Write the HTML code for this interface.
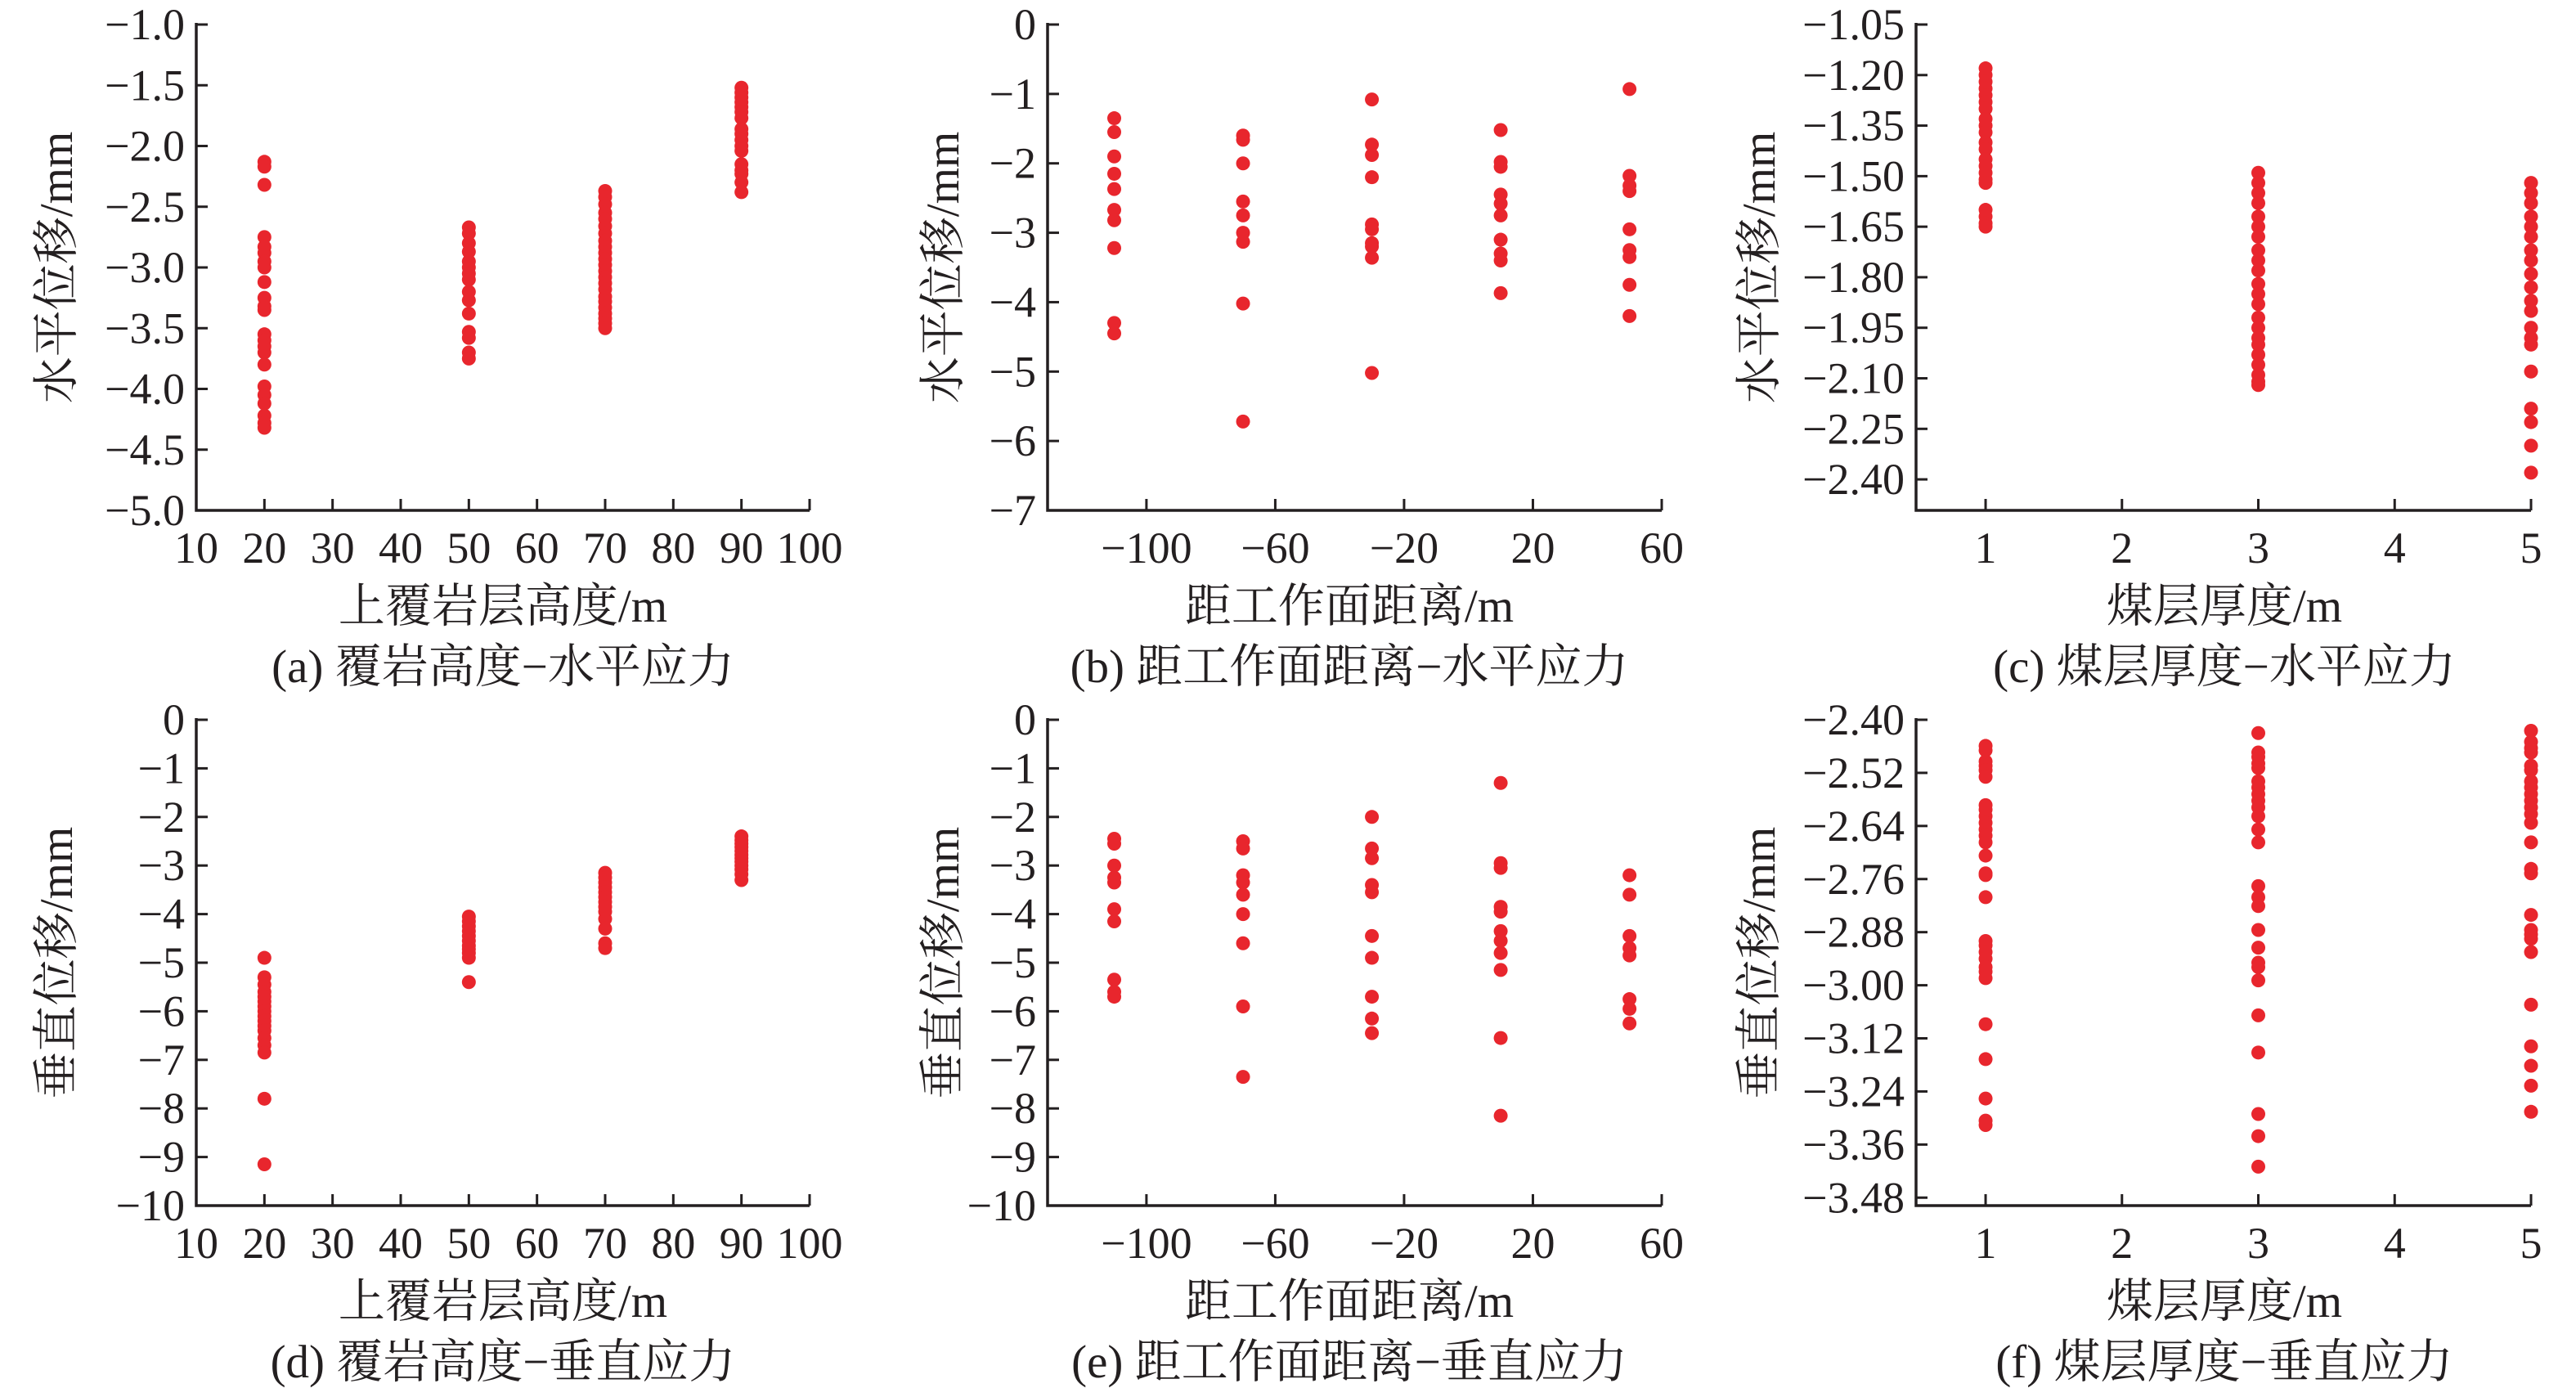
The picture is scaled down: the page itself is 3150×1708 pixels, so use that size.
<!DOCTYPE html>
<html><head><meta charset="utf-8"><style>
html,body{margin:0;padding:0;background:#fff;}
svg{display:block;}
text{fill:#231f20;}
.tk{font-family:"Liberation Serif","Noto Serif CJK SC",serif;font-size:54px;}
.tt{font-family:"Liberation Serif","Noto Serif CJK SC",serif;font-size:57px;}
</style></head><body>
<svg id="fig" width="3150" height="1708" viewBox="0 0 3150 1708" xmlns="http://www.w3.org/2000/svg"></svg>
<script>
// Panel (a)
const aX=[20,20,20,20,20,20,20,20,20,20,20,20,20,20,20,20,20,20,20,20,20,20,20,
 50,50,50,50,50,50,50,50,50,50,50,50,50,50,50,
 70,70,70,70,70,70,70,70,70,70,70,70,70,70,70,70,70,70,70,70,70,70,70,
 90,90,90,90,90,90,90,90,90,90,90,90,90,90,90,90,90];
const aY=[-2.13,-2.17,-2.32,-2.75,-2.83,-2.88,-2.95,-3.0,-3.12,-3.25,-3.32,-3.35,-3.55,-3.6,-3.65,-3.7,-3.8,-3.98,-4.05,-4.12,-4.22,-4.28,-4.32,
 -2.67,-2.72,-2.8,-2.87,-2.95,-3.0,-3.05,-3.1,-3.2,-3.27,-3.38,-3.53,-3.58,-3.7,-3.75,
 -2.37,-2.42,-2.48,-2.55,-2.6,-2.66,-2.72,-2.78,-2.83,-2.88,-2.93,-2.98,-3.03,-3.08,-3.13,-3.18,-3.24,-3.28,-3.33,-3.38,-3.42,-3.46,-3.5,
 -1.52,-1.56,-1.6,-1.64,-1.68,-1.72,-1.77,-1.86,-1.9,-1.95,-2.0,-2.04,-2.15,-2.2,-2.23,-2.3,-2.38];
// Panel (b)
const bX=[-110,-110,-110,-110,-110,-110,-110,-110,-110,-110,-70,-70,-70,-70,-70,-70,-70,-70,-70,
 -30,-30,-30,-30,-30,-30,-30,-30,-30,-30,10,10,10,10,10,10,10,10,10,10,50,50,50,50,50,50,50,50,50];
const bY=[-1.35,-1.55,-1.9,-2.15,-2.37,-2.67,-2.82,-3.22,-4.3,-4.45,-1.6,-1.66,-2.0,-2.55,-2.75,-3.0,-3.13,-4.02,-5.72,
 -1.08,-1.73,-1.88,-2.2,-2.88,-2.95,-3.15,-3.2,-3.36,-5.02,-1.52,-1.98,-2.05,-2.45,-2.58,-2.75,-3.1,-3.3,-3.4,-3.87,
 -0.93,-2.18,-2.32,-2.4,-2.95,-3.25,-3.35,-3.75,-4.2];
// Panel (c)
const cX=[1,1,1,1,1,1,1,1,1,1,1,1,1,1,1,1,1,1,1,1,1,3,3,3,3,3,3,3,3,3,3,3,3,3,3,3,3,3,3,3,3,3,3,
 5,5,5,5,5,5,5,5,5,5,5,5,5,5,5,5,5,5,5,5];
const cY=[-1.18,-1.2,-1.22,-1.24,-1.26,-1.28,-1.3,-1.33,-1.35,-1.37,-1.4,-1.42,-1.45,-1.47,-1.49,-1.51,-1.52,-1.6,-1.62,-1.64,-1.65,
 -1.49,-1.52,-1.55,-1.58,-1.62,-1.65,-1.68,-1.72,-1.75,-1.78,-1.82,-1.85,-1.88,-1.92,-1.95,-1.98,-2.0,-2.03,-2.06,-2.09,-2.11,-2.12,
 -1.52,-1.55,-1.58,-1.62,-1.65,-1.68,-1.72,-1.75,-1.79,-1.83,-1.87,-1.9,-1.95,-1.98,-2.0,-2.08,-2.19,-2.23,-2.3,-2.38];
// Panel (d)
const dX=[20,20,20,20,20,20,20,20,20,20,20,20,20,20,20,20,20,50,50,50,50,50,50,50,50,50,50,50,
 70,70,70,70,70,70,70,70,70,70,70,70,70,90,90,90,90,90,90,90,90,90,90,90,90];
const dY=[-4.9,-5.3,-5.45,-5.6,-5.7,-5.8,-5.9,-6.0,-6.1,-6.2,-6.3,-6.4,-6.55,-6.7,-6.85,-7.8,-9.15,
 -4.05,-4.15,-4.25,-4.35,-4.45,-4.55,-4.65,-4.72,-4.8,-4.9,-5.4,
 -3.15,-3.25,-3.35,-3.45,-3.55,-3.65,-3.75,-3.85,-3.95,-4.1,-4.3,-4.6,-4.7,
 -2.4,-2.48,-2.55,-2.62,-2.7,-2.78,-2.85,-2.92,-3.0,-3.08,-3.18,-3.3];
// Panel (e)
const eX=[-110,-110,-110,-110,-110,-110,-110,-110,-110,-110,-70,-70,-70,-70,-70,-70,-70,-70,-70,
 -30,-30,-30,-30,-30,-30,-30,-30,-30,-30,10,10,10,10,10,10,10,10,10,10,10,50,50,50,50,50,50,50,50];
const eY=[-2.45,-2.55,-3.0,-3.25,-3.35,-3.9,-4.15,-5.35,-5.6,-5.7,-2.5,-2.65,-3.2,-3.35,-3.6,-4.0,-4.6,-5.9,-7.35,
 -2.0,-2.65,-2.85,-3.4,-3.55,-4.45,-4.9,-5.7,-6.15,-6.45,-1.3,-2.95,-3.05,-3.85,-3.95,-4.35,-4.55,-4.8,-5.15,-6.55,-8.15,
 -3.2,-3.6,-4.45,-4.7,-4.85,-5.75,-5.95,-6.25];
// Panel (f)
const fX=[1,1,1,1,1,1,1,1,1,1,1,1,1,1,1,1,1,1,1,1,1,1,1,1,1,1,1,1,1,
 3,3,3,3,3,3,3,3,3,3,3,3,3,3,3,3,3,3,3,3,3,3,3,3,3,3,
 5,5,5,5,5,5,5,5,5,5,5,5,5,5,5,5,5,5,5,5,5,5,5,5,5,5];
const fY=[-2.459,-2.469,-2.494,-2.504,-2.514,-2.529,-2.593,-2.603,-2.618,-2.633,-2.648,-2.662,-2.677,-2.707,-2.747,-2.751,-2.801,-2.900,-2.910,-2.925,-2.940,-2.959,-2.969,-2.984,-3.088,-3.167,-3.256,-3.306,-3.316,
 -2.430,-2.474,-2.484,-2.499,-2.509,-2.539,-2.553,-2.568,-2.583,-2.598,-2.618,-2.648,-2.677,-2.776,-2.801,-2.821,-2.875,-2.915,-2.949,-2.959,-2.989,-3.068,-3.152,-3.291,-3.341,-3.410,
 -2.425,-2.450,-2.464,-2.474,-2.504,-2.514,-2.539,-2.553,-2.568,-2.583,-2.598,-2.613,-2.633,-2.677,-2.737,-2.747,-2.841,-2.875,-2.885,-2.895,-2.925,-3.044,-3.138,-3.182,-3.227,-3.286];

const hX=[10,20,30,40,50,60,70,80,90,100];
const dxTicks=[-100,-60,-20,20,60];
const tX=[1,2,3,4,5];
const aTicks=[-1.0,-1.5,-2.0,-2.5,-3.0,-3.5,-4.0,-4.5,-5.0];
const bTicks=[0,-1,-2,-3,-4,-5,-6,-7];
const cTicks=[-1.05,-1.20,-1.35,-1.50,-1.65,-1.80,-1.95,-2.10,-2.25,-2.40];
const dTicks=[0,-1,-2,-3,-4,-5,-6,-7,-8,-9,-10];
const fTicks=[-2.40,-2.52,-2.64,-2.76,-2.88,-3.00,-3.12,-3.24,-3.36,-3.48];

const NS="http://www.w3.org/2000/svg";
const svgEl=document.getElementById('fig');
function mk(tag,attrs,parent){const e=document.createElementNS(NS,tag);for(const k in attrs)e.setAttribute(k,attrs[k]);(parent||svgEl).appendChild(e);return e;}
function fmtMinus(s){return s.replace('-','\u2212');}

function panel(o){
  const g=mk('g',{});
  
  
  const sx=v=>o.x0+(v-o.xd[0])/(o.xd[1]-o.xd[0])*(o.x1-o.x0);
  const sy=v=>o.y1-(v-o.yd[0])/(o.yd[1]-o.yd[0])*(o.y1-o.y0);
  const ax=mk('path',{d:`M${o.x0} ${o.y0-2}V${o.y1}H${o.x1}`,fill:'none',stroke:'#231f20','stroke-width':3.5},g);
  
  
  o.xt.forEach(v=>{
    const x=sx(v);
    mk('line',{x1:x,x2:x,y1:o.y1,y2:o.y1-14,stroke:'#231f20','stroke-width':3},g);
    const t=mk('text',{x:x,y:o.y1+64,'text-anchor':'middle',class:'tk'},g);
    t.textContent=fmtMinus(String(v));
    
    
  });
  o.yt.forEach(v=>{
    const y=sy(v);
    mk('line',{x1:o.x0,x2:o.x0+14,y1:y,y2:y,stroke:'#231f20','stroke-width':3},g);
    const t=mk('text',{x:o.x0-14,y:y+18,'text-anchor':'end',class:'tk'},g);
    t.textContent=fmtMinus(v.toFixed(o.dec));
    
    
  });
  o.X.forEach((xv,i)=>{
    const c=mk('circle',{cx:sx(xv),cy:sy(o.Y[i]),r:8.5,fill:'#e8262d'},g);
    
    
  });
  const xt=mk('text',{x:o.cx,y:o.y1+136,'text-anchor':'middle',class:'tt'},g);
  xt.textContent=o.xl;
  
  
  const cap=mk('text',{x:o.cx,y:o.y1+210,'text-anchor':'middle',class:'tt'},g);
  cap.textContent=o.cap;
  
  
  const yy=(o.y0+o.y1)/2;
  const yt=mk('text',{x:o.yx,y:yy,'text-anchor':'middle',class:'tt',transform:`rotate(-90 ${o.yx} ${yy})`},g);
  yt.textContent=o.yl;
  
  
}
const colA={x0:240,x1:990,xd:[10,100],xt:hX,cx:615,yx:88,xl:'上覆岩层高度/m'};
const colB={x0:1281,x1:2032,xd:[-130.7,60],xt:dxTicks,cx:1650,yx:1172,xl:'距工作面距离/m'};
const colC={x0:2343,x1:3095,xd:[0.49,5],xt:tX,cx:2720,yx:2170,xl:'煤层厚度/m'};
const rowT={y0:30,y1:624}, rowB={y0:880,y1:1474};
panel(Object.assign({},colA,rowT,{name:'panel-a',yd:[-5,-1],yt:aTicks,dec:1,X:aX,Y:aY,yl:'水平位移/mm',cap:'(a) 覆岩高度−水平应力'}));
panel(Object.assign({},colB,rowT,{name:'panel-b',yd:[-7,0],yt:bTicks,dec:0,X:bX,Y:bY,yl:'水平位移/mm',cap:'(b) 距工作面距离−水平应力'}));
panel(Object.assign({},colC,rowT,{name:'panel-c',yd:[-2.492,-1.05],yt:cTicks,dec:2,X:cX,Y:cY,yl:'水平位移/mm',cap:'(c) 煤层厚度−水平应力'}));
panel(Object.assign({},colA,rowB,{name:'panel-d',yd:[-10,0],yt:dTicks,dec:0,X:dX,Y:dY,yl:'垂直位移/mm',cap:'(d) 覆岩高度−垂直应力'}));
panel(Object.assign({},colB,rowB,{name:'panel-e',yd:[-10,0],yt:dTicks,dec:0,X:eX,Y:eY,yl:'垂直位移/mm',cap:'(e) 距工作面距离−垂直应力'}));
panel(Object.assign({},colC,rowB,{name:'panel-f',yd:[-3.498,-2.40],yt:fTicks,dec:2,X:fX,Y:fY,yl:'垂直位移/mm',cap:'(f) 煤层厚度−垂直应力'}));
</script>
</body></html>
